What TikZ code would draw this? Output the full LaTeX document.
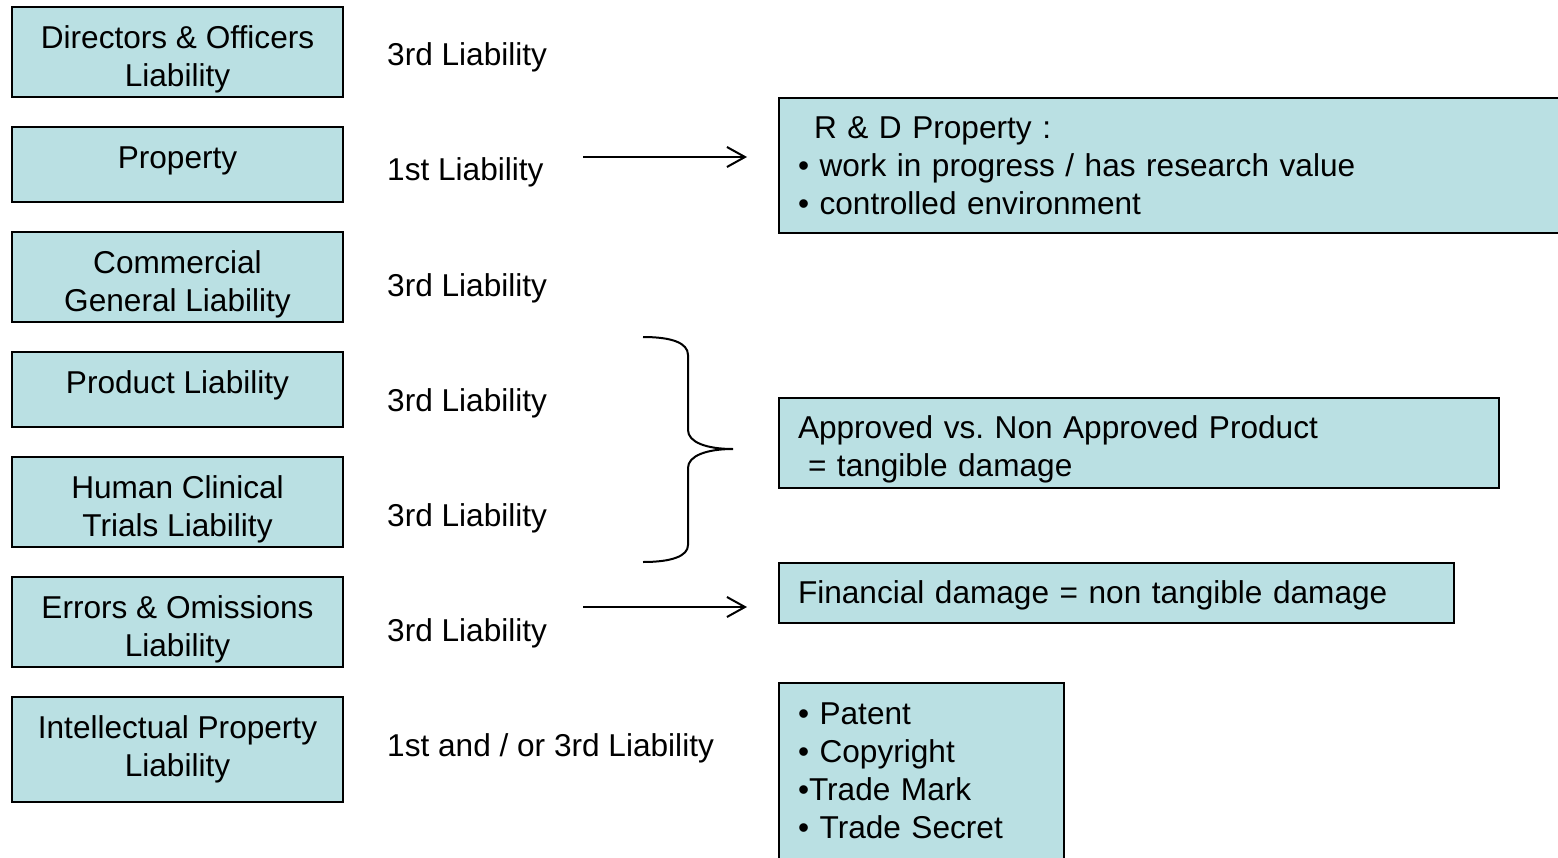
\documentclass[tikz,border=0pt]{standalone}
\usepackage{fontspec}
\setmainfont{Liberation Sans}
\usetikzlibrary{arrows.meta}
\definecolor{boxfill}{RGB}{186,224,227}
\newcommand\tallst[1]{\rule{0pt}{#1}}
\newcommand\deepst[1]{\rule[-#1]{0pt}{#1}}
\tikzset{
  txt/.style={font=\fontsize{31.6pt}{38pt}\selectfont\frenchspacing},
  lbox/.style={txt, draw=black, fill=boxfill, line width=2pt, minimum width=331pt, inner sep=0pt, align=center},
  rbox/.style={txt, draw=black, fill=boxfill, line width=2pt, anchor=north west, inner xsep=19pt, inner ysep=0pt, align=left},
  lab/.style={txt, anchor=west, inner sep=0pt},
  arr/.style={line width=2pt, -{Straight Barb[length=18pt,width=20pt,line width=2pt]}},
  bracestyle/.style={line width=2pt}
}
\begin{document}
\begin{tikzpicture}[x=1pt,y=-1pt]
\useasboundingbox (0,0) rectangle (1558,857);
\clip (0,0) rectangle (1558,857);
% left column
\node[lbox, minimum height=90pt] (do) at (177.5,52) {\tallst{37pt}Directors \& Officers\\Liability};
\node[lbox, minimum height=75pt] (prop) at (177.5,164.5) {Property\deepst{14.6pt}};
\node[lbox, minimum height=90pt] (cgl) at (177.5,277) {\tallst{37pt}Commercial\\General Liability};
\node[lbox, minimum height=75pt] (prod) at (177.5,389.5) {Product Liability\deepst{14.6pt}};
\node[lbox, minimum height=90pt] (hct) at (177.5,502) {\tallst{37pt}Human Clinical\\Trials Liability};
\node[lbox, minimum height=90pt] (eo) at (177.5,622) {\tallst{37pt}Errors \& Omissions\\Liability};
\node[lbox, minimum height=105pt] (ipl) at (177.5,749.5) {Intellectual Property\\Liability};
% labels
\node[lab] (l1) at (387,57) {3rd Liability};
\node[lab] (l2) at (387,172) {1st Liability};
\node[lab] (l3) at (387,288) {3rd Liability};
\node[lab] (l4) at (387,403) {3rd Liability};
\node[lab] (l5) at (387,518) {3rd Liability};
\node[lab] (l6) at (387,633) {3rd Liability};
\node[lab] (l7) at (387,748) {1st and / or 3rd Liability};
% right boxes
\node[rbox, text width=762pt, minimum height=135pt] (rd) at (778,97)
  {\hspace*{16pt}R \& D Property :\\• work in progress / has research value\\• controlled environment};
\node[rbox, text width=682pt, minimum height=90pt] (appr) at (778,397)
  {\tallst{35pt}Approved vs. Non Approved Product\\\hspace*{10pt}= tangible damage};
\node[rbox, text width=637pt, minimum height=60pt] (fin) at (778,562)
  {\tallst{27pt}Financial damage = non tangible damage};
\node[rbox, text width=247pt, minimum height=220pt] (iplist) at (778,682)
  {• Patent\\• Copyright\\•Trade Mark\\• Trade Secret\rule[-45pt]{0pt}{45pt}};
% arrows
\coordinate (a1s) at (583,157);
\coordinate (a1e) at (747,157);
\coordinate (a2s) at (583,607);
\coordinate (a2e) at (747,607);
\draw[arr] (a1s) -- (a1e);
\draw[arr] (a2s) -- (a2e);
% brace
\coordinate (bt) at (643,337);
\coordinate (bm) at (733,449);
\coordinate (bb) at (643,562);
\draw[bracestyle] (bt) .. controls (672,337) and (688,343) .. (688,355)
  -- (688,430) .. controls (688,442) and (706,449) .. (bm)
  .. controls (706,449) and (688,456) .. (688,468)
  -- (688,545) .. controls (688,556) and (672,562) .. (bb);
\end{tikzpicture}
\end{document}
